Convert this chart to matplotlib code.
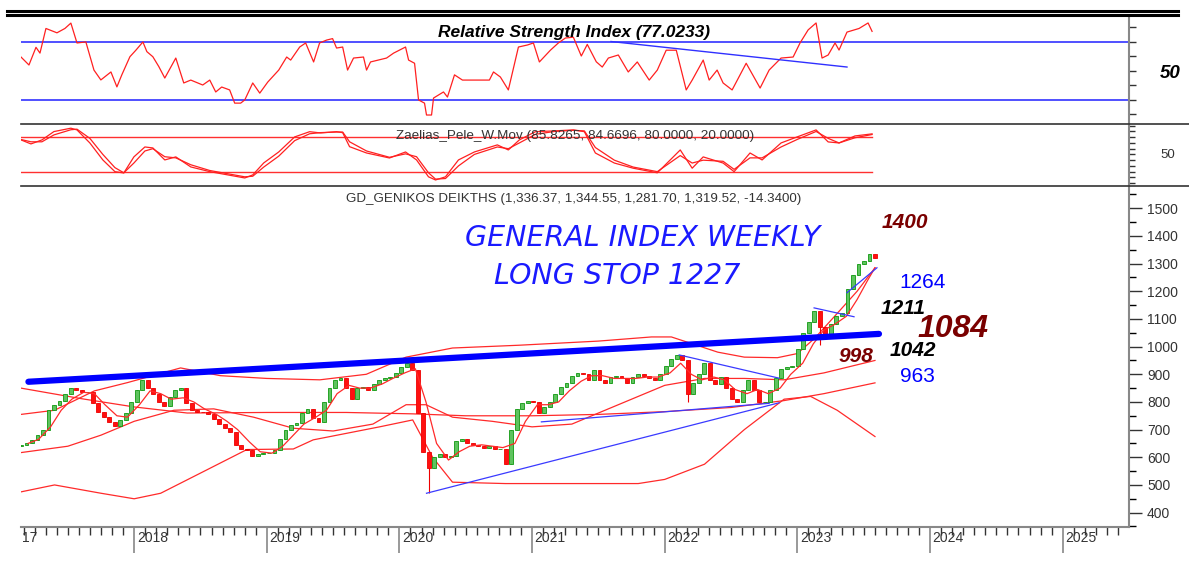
import numpy as np
import matplotlib.pyplot as plt
from matplotlib.lines import Line2D

plt.rcParams['font.family'] = ['Liberation Sans', 'DejaVu Sans']

# ---------------- data ----------------
# semi-monthly closes, late Feb 2017 .. early Aug 2023
closes = [645,
          650, 662, 680, 700, 770, 790, 805, 830, 850, 845, 835, 835, 795, 765, 745, 728, 712, 735, 760, 800,
          845, 880, 850, 828, 800, 785, 818, 842, 852, 795, 772, 765, 762, 755, 740, 722, 705, 690, 645, 630, 625, 605, 612, 615,
          616, 625, 665, 700, 718, 725, 760, 775, 742, 728, 800, 850, 880, 885, 850, 810, 850, 855, 845, 865, 880, 885, 890, 905,
          925, 940, 915, 760, 620, 560, 600, 612, 600, 605, 660, 665, 650, 645, 640, 635, 640, 630, 630, 575, 700, 775, 795, 805,
          800, 760, 780, 800, 830, 855, 870, 895, 905, 900, 880, 915, 880, 870, 890, 895, 885, 870, 890, 900, 895, 885, 880, 900,
          930, 955, 970, 950, 830, 870, 900, 940, 880, 865, 890, 850, 810, 800, 845, 880, 845, 800, 800, 845, 885, 920, 925, 930,
          990, 1050, 1090, 1130, 1070, 1030, 1080, 1110, 1120, 1210, 1260, 1300, 1310, 1335,
          1320]
first_open = 640
extra_lows = {74: 470, 121: 800, 145: 1005}

# short moving average (monthly)
ma_t = [2017.20, 2017.28, 2017.37, 2017.45, 2017.53, 2017.62, 2017.70, 2017.78, 2017.87, 2017.95,
        2018.04, 2018.12, 2018.20, 2018.28, 2018.37, 2018.45, 2018.53, 2018.62, 2018.70, 2018.78, 2018.87, 2018.95,
        2019.04, 2019.12, 2019.20, 2019.28, 2019.37, 2019.45, 2019.53, 2019.62, 2019.70, 2019.78, 2019.87, 2019.95,
        2020.04, 2020.12, 2020.20, 2020.28, 2020.37, 2020.45, 2020.53, 2020.62, 2020.70, 2020.78, 2020.87, 2020.95,
        2021.04, 2021.12, 2021.20, 2021.28, 2021.37, 2021.45, 2021.53, 2021.62, 2021.70, 2021.78, 2021.87, 2021.95,
        2022.04, 2022.12, 2022.20, 2022.28, 2022.37, 2022.45, 2022.53, 2022.62, 2022.70, 2022.78, 2022.87, 2022.95,
        2023.04, 2023.12, 2023.20, 2023.28, 2023.37, 2023.45, 2023.53, 2023.585]
ma_v = [650, 665, 710, 770, 810, 835, 830, 790, 750, 745,
        790, 840, 830, 810, 815, 800, 775, 755, 730, 700, 655, 620,
        615, 640, 680, 720, 745, 770, 830, 860, 850, 850, 865, 885,
        905, 920, 800, 650, 590, 620, 640, 645, 640, 635, 650, 730,
        790, 790, 800, 840, 875, 895, 895, 885, 885, 885, 890, 890,
        905, 940, 900, 880, 890, 880, 845, 830, 845, 830, 850, 900,
        940, 1010, 1060, 1080, 1110, 1170, 1240, 1285]

# long moving average
lma_t = [2017.147, 2017.6, 2018.0, 2018.4, 2019.0, 2019.6, 2020.1, 2020.5, 2021.0, 2021.5, 2022.0, 2022.5, 2022.9, 2023.2, 2023.585]
lma_v = [850, 812, 782, 760, 762, 762, 757, 750, 750, 755, 765, 780, 805, 830, 869]

# upper band
ub_t = [2017.147, 2017.4, 2017.7, 2017.95, 2018.35, 2018.65, 2019.0, 2019.4, 2019.75, 2020.05, 2020.4, 2020.9, 2021.5,
        2021.9, 2022.05, 2022.4, 2022.6, 2022.85, 2023.0, 2023.13, 2023.3, 2023.45, 2023.585]
ub_v = [755, 770, 840, 870, 923, 895, 885, 880, 900, 962, 995, 1005, 1020,
        1035, 1035, 980, 962, 960, 975, 1030, 1120, 1200, 1285]

# middle band
mb_t = [2017.147, 2017.5, 2017.75, 2018.0, 2018.3, 2018.6, 2018.9, 2019.2, 2019.5, 2019.8, 2020.05, 2020.2, 2020.4,
        2020.7, 2021.0, 2021.3, 2021.6, 2022.0, 2022.3, 2022.6, 2022.9, 2023.2, 2023.585]
mb_v = [617, 640, 680, 730, 770, 775, 745, 705, 695, 720, 790, 790, 745,
        730, 710, 720, 780, 860, 885, 885, 880, 905, 950]

# lower band
lb_t = [2017.147, 2017.4, 2017.75, 2018.0, 2018.2, 2018.55, 2018.85, 2019.2, 2019.35, 2019.85, 2020.1, 2020.25, 2020.4,
        2020.8, 2021.3, 2021.8, 2022.0, 2022.3, 2022.6, 2022.9, 2023.1, 2023.3, 2023.585]
lb_v = [475, 500, 470, 450, 470, 555, 628, 630, 663, 710, 735, 600, 510, 505, 505, 505, 520, 575, 700, 810, 820, 770, 675]

# RSI
rsi_t = [2017.147, 2017.207, 2017.260, 2017.290, 2017.335, 2017.418, 2017.478, 2017.523, 2017.569, 2017.636, 2017.697,
         2017.749, 2017.825, 2017.870, 2017.907, 2017.968, 2018.013, 2018.066, 2018.096, 2018.141, 2018.186, 2018.231,
         2018.314, 2018.374, 2018.427, 2018.517, 2018.570, 2018.615, 2018.660, 2018.720, 2018.758, 2018.803, 2018.834,
         2018.894, 2018.947, 2019.007, 2019.090, 2019.150, 2019.180, 2019.248, 2019.293, 2019.353, 2019.398, 2019.451,
         2019.496, 2019.526, 2019.572, 2019.609, 2019.654, 2019.729, 2019.752, 2019.782, 2019.903, 2019.956, 2020.046,
         2020.069, 2020.114, 2020.144, 2020.189, 2020.204, 2020.242, 2020.257, 2020.332, 2020.362, 2020.415, 2020.475,
         2020.565, 2020.678, 2020.709, 2020.761, 2020.821, 2020.897, 2020.965, 2021.010, 2021.055, 2021.138, 2021.198,
         2021.251, 2021.311, 2021.371, 2021.416, 2021.484, 2021.529, 2021.575, 2021.650, 2021.725, 2021.793, 2021.883,
         2021.944, 2022.011, 2022.087, 2022.162, 2022.207, 2022.290, 2022.335, 2022.395, 2022.440, 2022.508, 2022.614,
         2022.719, 2022.787, 2022.877, 2022.968, 2023.020, 2023.081, 2023.141, 2023.186, 2023.232, 2023.284, 2023.314,
         2023.374, 2023.465, 2023.533, 2023.563]
rsi_v = [59.3, 53.8, 66, 62, 79, 76, 79, 82.7, 69, 69.7, 50.3,
         43.5, 49, 38.7, 47, 59.5, 64, 69.7, 63, 59.5, 52.7, 44.8,
         58.6, 41.4, 43.4, 40, 43.4, 35.2, 38.6, 36.6, 27.5, 27.5, 29.7,
         41.4, 34.4, 42, 50.3, 59.3, 57.2, 66.2, 69, 55.9, 69, 71,
         72, 65.5, 66.2, 50.3, 58.6, 59.3, 50.3, 55.9, 58.6, 62, 66.2,
         57.2, 55, 29.7, 27.5, 19.3, 19.3, 31, 35.2, 31.7, 47, 43.4,
         43.4, 43.4, 49, 45.5, 36.6, 66.2, 67.6, 69, 55.9, 64, 69,
         72.4, 73, 60, 68, 56, 52.4, 58.6, 60.7, 49, 55.9, 43.4,
         50.3, 64, 64, 36.6, 43.4, 57.2, 43.4, 50.3, 41.4, 36.6, 55,
         37.9, 50.3, 58.6, 59.3, 69, 78, 82.8, 58.6, 60.7, 69, 64.1,
         76.5, 79, 82.8, 77.0]

# Zaelias_Pele_W.Mov (fast / slow)
zp_t = [2017.147, 2017.222, 2017.305, 2017.395, 2017.523, 2017.569, 2017.666, 2017.764, 2017.855, 2017.922, 2017.998,
        2018.081, 2018.141, 2018.231, 2018.314, 2018.427, 2018.570, 2018.834, 2018.894, 2018.977, 2019.090, 2019.210,
        2019.323, 2019.406, 2019.526, 2019.572, 2019.624, 2019.752, 2019.925, 2020.046, 2020.129, 2020.219, 2020.272,
        2020.347, 2020.445, 2020.565, 2020.738, 2020.821, 2020.904, 2021.025, 2021.168, 2021.311, 2021.394, 2021.477,
        2021.620, 2021.762, 2021.944, 2022.117, 2022.207, 2022.290, 2022.440, 2022.523, 2022.643, 2022.734, 2022.877,
        2022.998, 2023.141, 2023.232, 2023.314, 2023.434, 2023.563]
zp_fast = [75.3, 68.3, 75.3, 89.8, 95.7, 92.7, 70, 40.4, 20, 17.7, 45.7,
           63, 61.3, 40.4, 45.7, 28.2, 20, 9, 14.3, 35.2, 54.3, 80.5,
           89.6, 87.4, 89.6, 87.9, 63.5, 52.5, 43.8, 54.3, 40.4, 11, 5.5,
           11, 40.4, 54.3, 66.6, 57.8, 75.3, 89.6, 91, 92.7, 89.6, 52.5,
           35, 26, 18, 57.8, 26, 45.7, 35, 20, 52.5, 40.4, 70,
           80.5, 92.7, 71.8, 70, 82.2, 85.8]
zp_slow = [76, 72, 72, 84, 93, 94, 78, 50, 27, 18, 35,
           56, 60, 46, 44, 32, 22, 11, 12, 28, 47, 74,
           86, 88, 89, 89, 72, 56, 45, 51, 46, 18, 7,
           8, 30, 50, 63, 60, 70, 85, 90, 92, 91, 62,
           40, 28, 20, 48, 35, 40, 38, 24, 44, 44, 63,
           76, 90, 78, 70, 79, 84.7]

# ---------------- layout ----------------
W, H = 1189, 561
fig = plt.figure(figsize=(W / 100, H / 100), dpi=100)


def rect(x0, y0, x1, y1):
    return [x0 / W, 1 - y1 / H, (x1 - x0) / W, (y1 - y0) / H]


def fx(x):
    return x / W


def fy(y):
    return 1 - y / H


ax_r = fig.add_axes(rect(21, 16, 1129, 124))
ax_z = fig.add_axes(rect(21, 124, 1129, 186))
ax_p = fig.add_axes(rect(21, 186, 1129, 527))
X0, X1 = 2017.147, 2025.5
grey = '#333333'
for ax in (ax_r, ax_z, ax_p):
    ax.set_xlim(X0, X1)
    for s in ('left', 'top', 'bottom'):
        ax.spines[s].set_visible(False)
    ax.spines['right'].set_color('#888888')
    ax.spines['right'].set_linewidth(1.5)
    ax.yaxis.tick_right()
    ax.set_xticks([])
    ax.tick_params(axis='y', colors=grey, direction='out')

# frame lines across the figure
for y, lw in ((10.8, 2.2), (14.6, 2.2)):
    fig.add_artist(Line2D([fx(7), fx(1178)], [fy(y), fy(y)], color='black', lw=lw))
for y in (124, 186):
    fig.add_artist(Line2D([fx(21), fx(1189)], [fy(y), fy(y)], color='#333333', lw=1.2))

# ---------------- RSI panel ----------------
ax_r.set_ylim(13.1, 87.6)
ax_r.axhline(70, color='#2020ff', lw=1.1)
ax_r.axhline(30, color='#2020ff', lw=1.1)
ax_r.plot(rsi_t, rsi_v, color='#ff2020', lw=0.9)
ax_r.plot([2021.595, 2023.374], [70, 52.4], color='#3030ff', lw=1.0)
ax_r.set_yticks([20, 30, 40, 50, 60, 70, 80])
ax_r.set_yticklabels([])
ax_r.tick_params(axis='y', length=5, width=1)
fig.text(fx(574), fy(32), 'Relative Strength Index (77.0233)', ha='center', va='center',
         fontsize=12.5, fontweight='bold', fontstyle='italic', color='black')
fig.text(fx(1170), fy(73), '50', ha='center', va='center', fontsize=13.5,
         fontweight='bold', fontstyle='italic', color='black')

# ---------------- Zaelias panel ----------------
ax_z.set_ylim(-5, 103)
ax_z.plot([X0, zp_t[-1]], [80, 80], color='#ff3030', lw=1.0)
ax_z.plot([X0, zp_t[-1]], [20, 20], color='#ff3030', lw=1.0)
ax_z.plot(zp_t, zp_fast, color='#ff2020', lw=0.9)
ax_z.plot(zp_t, zp_slow, color='#ff2020', lw=0.9)
ax_z.set_yticks(np.arange(0, 101, 10))
ax_z.set_yticklabels([])
ax_z.tick_params(axis='y', length=4, width=1)
fig.text(fx(575), fy(136), 'Zaelias_Pele_W.Mov (85.8265, 84.6696, 80.0000, 20.0000)', ha='center',
         va='center', fontsize=9.7, color=grey)
fig.text(fx(1168), fy(154.5), '50', ha='center', va='center', fontsize=9.5, color=grey)

# ---------------- price panel ----------------
ax_p.set_ylim(348, 1580.6)
n = len(closes)
t = np.linspace(2017.147, 2023.585, n)
opens = [first_open] + closes[:-1]
lows = [min(o, c) for o, c in zip(opens, closes)]
highs = [max(o, c) for o, c in zip(opens, closes)]
for k, v in extra_lows.items():
    lows[k] = v
up = [c >= o for o, c in zip(opens, closes)]
face = ['#5fc35f' if u else '#ff1010' for u in up]
edge = ['#119911' if u else '#ee0000' for u in up]
step = t[1] - t[0]
ax_p.vlines(t, lows, highs, colors=edge, lw=0.8, zorder=3)
ax_p.bar(t, np.array(closes) - np.array(opens), bottom=opens, width=step * 0.7,
         color=face, edgecolor=edge, linewidth=0.6, zorder=4)

red = '#ff2a2a'
ax_p.plot(ma_t, ma_v, color=red, lw=0.9, zorder=5)
ax_p.plot(lma_t, lma_v, color=red, lw=0.9, zorder=2)
ax_p.plot(ub_t, ub_v, color=red, lw=0.9, zorder=2)
ax_p.plot(mb_t, mb_v, color=red, lw=0.9, zorder=2)
ax_p.plot(lb_t, lb_v, color=red, lw=0.9, zorder=2)

# trend lines
blue = '#0000ff'
ax_p.plot([2017.203, 2023.615], [873, 1046], color=blue, lw=4.5, solid_capstyle='round', zorder=6)
ax_p.plot([2020.204, 2022.862], [470, 797], color='#3a3aff', lw=0.9, zorder=6)
ax_p.plot([2021.070, 2022.787], [728, 795], color='#3a3aff', lw=0.9, zorder=6)
ax_p.plot([2022.109, 2022.862], [970, 886], color='#3a3aff', lw=0.9, zorder=6)
ax_p.plot([2023.126, 2023.427], [1140, 1108], color='#3a3aff', lw=0.9, zorder=6)
ax_p.plot([2023.374, 2023.600], [1195, 1285], color='#3a3aff', lw=0.9, zorder=6)

ax_p.set_yticks(np.arange(400, 1501, 100))
ax_p.set_yticks(np.arange(350, 1551, 50), minor=True)
ax_p.tick_params(axis='y', which='major', length=9, width=1, labelsize=10, pad=4)
ax_p.tick_params(axis='y', which='minor', length=5, width=1)

# x axis with monthly minor ticks and year labels
ax_p.spines['bottom'].set_visible(True)
ax_p.spines['bottom'].set_color('#888888')
ax_p.spines['bottom'].set_linewidth(1.5)
years = [2018, 2019, 2020, 2021, 2022, 2023, 2024, 2025]
ax_p.set_xticks(years)
ax_p.set_xticklabels([])
ax_p.set_xticks([y + m / 12 for y in range(2017, 2026) for m in range(12) if X0 < y + m / 12 < X1], minor=True)
ax_p.tick_params(axis='x', which='major', length=19, width=1.2, colors='#888888')
ax_p.tick_params(axis='x', which='minor', length=6, width=1, colors=grey)
for y in years:
    ax_p.text(y + 0.02, -0.032, str(y), transform=ax_p.get_xaxis_transform(), ha='left', va='center',
              fontsize=10, color=grey)
ax_p.text(X0 + 0.005, -0.032, '17', transform=ax_p.get_xaxis_transform(), ha='left', va='center',
          fontsize=10, color=grey)

fig.text(fx(574), fy(199), 'GD_GENIKOS DEIKTHS (1,336.37, 1,344.55, 1,281.70, 1,319.52, -14.3400)',
         ha='center', va='center', fontsize=9.6, color=grey)

hand = dict(family=['DejaVu Sans'], fontstyle='oblique', fontweight='light', color='#1a1aff')
fig.text(fx(643), fy(238), 'GENERAL INDEX WEEKLY', ha='center', va='center', fontsize=20.5, **hand)
fig.text(fx(617), fy(276), 'LONG STOP 1227', ha='center', va='center', fontsize=20.5, **hand)

dark = '#7a0000'
fig.text(fx(905), fy(223), '1400', ha='center', va='center', fontsize=15, fontweight='bold',
         fontstyle='italic', color=dark)
fig.text(fx(923), fy(282), '1264', ha='center', va='center', fontsize=15, color='#0000ff')
fig.text(fx(903), fy(308), '1211', ha='center', va='center', fontsize=15, fontweight='bold',
         fontstyle='italic', color='black')
fig.text(fx(953), fy(329), '1084', ha='center', va='center', fontsize=23, fontweight='bold',
         fontstyle='italic', color=dark)
fig.text(fx(856), fy(357), '998', ha='center', va='center', fontsize=15, fontweight='bold',
         fontstyle='italic', color=dark)
fig.text(fx(913), fy(351), '1042', ha='center', va='center', fontsize=15, fontweight='bold',
         fontstyle='italic', color='black')
fig.text(fx(917), fy(376), '963', ha='center', va='center', fontsize=15, color='#0000ff')

fig.savefig('out.png', dpi=100)
